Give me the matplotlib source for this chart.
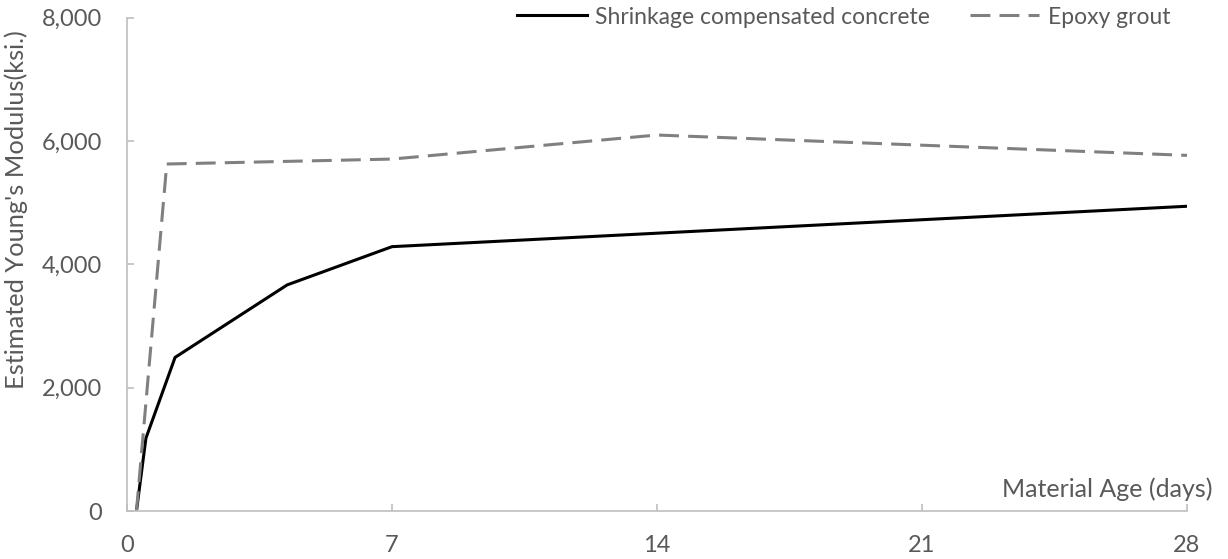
import numpy as np
import matplotlib.pyplot as plt
from matplotlib.ticker import FuncFormatter

# Material age (days) and estimated modulus (ksi)
concrete_days = [0.25, 0.5, 1.27, 4.23, 7.0, 28.0]
concrete_modulus = [0, 1180, 2490, 3665, 4285, 4940]

grout_days = [0.25, 1.05, 7.0, 14.0, 28.0]
grout_modulus = [0, 5625, 5705, 6095, 5765]

x_ticks = [0, 7, 14, 21, 28]
y_ticks = [0, 2000, 4000, 6000, 8000]

text_color = "#595959"
axis_color = "#BFBFBF"

plt.rcParams["font.family"] = ["Lato", "DejaVu Sans"]

fig = plt.figure(figsize=(12.28, 5.59), dpi=100)
ax = fig.add_axes([127 / 1228, 48 / 559, 1060 / 1228, 493.5 / 559])

ax.plot(concrete_days, concrete_modulus, color="black", lw=2.2,
        label="Shrinkage compensated concrete", solid_joinstyle="miter")
ax.plot(grout_days, grout_modulus, color="#808080", lw=2.2,
        dashes=(6.5, 3.0), label="Epoxy grout")

ax.set_xlim(0, 28)
ax.set_ylim(0, 8000)
ax.set_xticks(x_ticks)
ax.set_yticks(y_ticks)
ax.yaxis.set_major_formatter(FuncFormatter(lambda v, p: f"{int(v):,}"))

for side in ["top", "right"]:
    ax.spines[side].set_visible(False)
for side in ["left", "bottom"]:
    ax.spines[side].set_color(axis_color)
    ax.spines[side].set_linewidth(1.2)

ax.tick_params(axis="both", direction="in", length=5, width=1.2,
               color=axis_color, labelcolor=text_color, labelsize=17)
ax.tick_params(axis="y", pad=18)
ax.tick_params(axis="x", pad=17)

ax.set_ylabel("Estimated Young's Modulus(ksi.)", fontsize=18.3, color=text_color)
ax.yaxis.set_label_coords(-0.0934, 0.61)
ax.text(1.0245, 0.0446, "Material Age (days)", transform=ax.transAxes,
        ha="right", va="center", fontsize=18, color=text_color)

ax.legend(loc="center right", bbox_to_anchor=(1170 / 1228, 1 - 17 / 559),
          bbox_transform=fig.transFigure, ncol=2, frameon=False,
          fontsize=16.5, labelcolor=text_color, handlelength=3.05,
          handletextpad=0.35, columnspacing=1.75, borderpad=0, borderaxespad=0)

fig.savefig("out.png", dpi=100)
